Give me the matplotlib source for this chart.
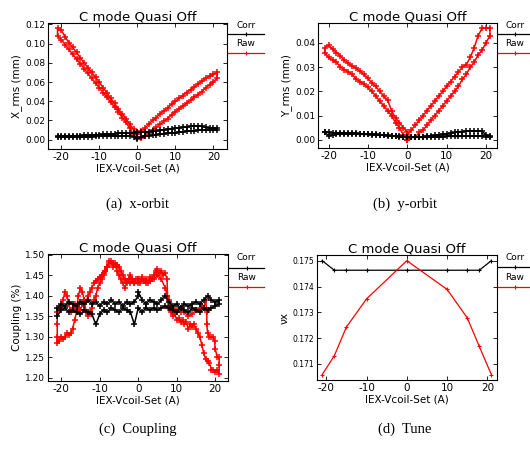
import matplotlib
matplotlib.use("Agg")
import matplotlib.pyplot as plt
from matplotlib.lines import Line2D

plt.rcParams['font.family'] = ['DejaVu Sans']
plt.rcParams['axes.unicode_minus'] = False

# ---------------- data ----------------
XP = [0, 1, 2, 3, 4, 5, 6, 7, 8, 9, 10, 11, 12, 13, 14, 15, 16, 17, 18, 19, 20, 21]
XPR = [21, 20, 19, 18, 17, 16, 15, 14, 13, 12, 11, 10, 9, 8, 7, 6, 5, 4, 3, 2, 1, 0]
XN = [0, -1, -2, -3, -4, -5, -6, -7, -8, -9, -10, -11, -12, -13, -14, -15, -16, -17, -18, -19, -20, -21]
XNR = [-21, -20, -19, -18, -17, -16, -15, -14, -13, -12, -11, -10, -9, -8, -7, -6, -5, -4, -3, -2, -1, 0]

# (a) x-orbit  X_rms (mm)
xa_raw_1 = [0.001, 0.002, 0.004, 0.007, 0.010, 0.013, 0.016, 0.019, 0.022, 0.026, 0.029,
            0.032, 0.035, 0.038, 0.041, 0.044, 0.047, 0.050, 0.054, 0.057, 0.060, 0.064]
xa_raw_2 = [0.070, 0.068, 0.066, 0.064, 0.061, 0.058, 0.055, 0.052, 0.049, 0.046, 0.043,
            0.040, 0.037, 0.033, 0.030, 0.027, 0.023, 0.020, 0.016, 0.012, 0.009, 0.006]
xa_raw_3 = [0.006, 0.011, 0.016, 0.022, 0.027, 0.032, 0.038, 0.043, 0.049, 0.054, 0.060,
            0.065, 0.070, 0.075, 0.080, 0.085, 0.091, 0.096, 0.101, 0.107, 0.114, 0.116]
xa_raw_4 = [0.108, 0.104, 0.099, 0.094, 0.089, 0.084, 0.079, 0.074, 0.069, 0.064, 0.059,
            0.054, 0.049, 0.044, 0.039, 0.034, 0.029, 0.023, 0.018, 0.012, 0.006, 0.001]
xa_corr_1 = [0.002, 0.003, 0.004, 0.004, 0.005, 0.005, 0.006, 0.006, 0.007, 0.007, 0.007,
             0.008, 0.008, 0.009, 0.009, 0.009, 0.010, 0.010, 0.010, 0.010, 0.010, 0.010]
xa_corr_2 = [0.012, 0.012, 0.012, 0.013, 0.014, 0.014, 0.014, 0.014, 0.013, 0.013, 0.012,
             0.012, 0.011, 0.011, 0.010, 0.010, 0.009, 0.009, 0.008, 0.008, 0.008, 0.008]
xa_corr_3 = [0.008, 0.007, 0.007, 0.007, 0.007, 0.007, 0.006, 0.006, 0.006, 0.006, 0.005,
             0.005, 0.005, 0.005, 0.005, 0.004, 0.004, 0.004, 0.004, 0.004, 0.004, 0.004]
xa_corr_4 = [0.003, 0.003, 0.003, 0.003, 0.003, 0.003, 0.003, 0.003, 0.003, 0.003, 0.004,
             0.004, 0.004, 0.004, 0.004, 0.004, 0.004, 0.004, 0.004, 0.004, 0.003, 0.002]

# (b) y-orbit  Y_rms (mm)
yb_raw_1 = [0.002, 0.004, 0.006, 0.008, 0.010, 0.012, 0.014, 0.016, 0.018, 0.020, 0.022,
            0.024, 0.026, 0.028, 0.030, 0.031, 0.034, 0.038, 0.043, 0.046, 0.046, 0.046]
yb_raw_2 = [0.043, 0.040, 0.037, 0.035, 0.032, 0.030, 0.027, 0.025, 0.022, 0.020, 0.018,
            0.016, 0.014, 0.012, 0.010, 0.008, 0.006, 0.004, 0.003, 0.001, 0.001, 0.000]
yb_raw_3 = [0.003, 0.005, 0.007, 0.009, 0.012, 0.0164, 0.018, 0.020, 0.022, 0.0235, 0.0253,
            0.027, 0.0283, 0.0295, 0.0305, 0.0315, 0.033, 0.0345, 0.036, 0.0375, 0.039, 0.038]
yb_raw_4 = [0.036, 0.034, 0.033, 0.032, 0.030, 0.029, 0.028, 0.027, 0.025, 0.024, 0.023,
            0.0216, 0.020, 0.018, 0.016, 0.014, 0.012, 0.010, 0.007, 0.005, 0.002, 0.000]
yb_corr_1 = [0.0010, 0.0010, 0.0010, 0.0010, 0.0010, 0.0010, 0.0012, 0.0012, 0.0013, 0.0013, 0.0014,
             0.0014, 0.0014, 0.0014, 0.0015, 0.0015, 0.0015, 0.0015, 0.0015, 0.0014, 0.0013, 0.0012]
yb_corr_2 = [0.0015, 0.0020, 0.0035, 0.0037, 0.0037, 0.0036, 0.0035, 0.0034, 0.0033, 0.0030, 0.0027,
             0.0025, 0.0022, 0.0020, 0.0018, 0.0016, 0.0015, 0.0013, 0.0012, 0.0012, 0.0012, 0.0012]
yb_corr_3 = [0.0012, 0.0013, 0.0014, 0.0015, 0.0017, 0.0018, 0.0020, 0.0021, 0.0022, 0.0023, 0.0024,
             0.0025, 0.0025, 0.0026, 0.0026, 0.0027, 0.0027, 0.0028, 0.0028, 0.0029, 0.0030, 0.0033]
yb_corr_4 = [0.0030, 0.0017, 0.0020, 0.0022, 0.0023, 0.0024, 0.0024, 0.0024, 0.0023, 0.0023, 0.0022,
             0.0022, 0.0021, 0.0020, 0.0019, 0.0018, 0.0016, 0.0015, 0.0014, 0.0012, 0.0011, 0.0010]

# (c) Coupling (%)
cc_raw_x = [0, 0.5, 1, 1.5, 2, 2.5, 3, 3.5, 4, 4.5, 5, 5.5, 6, 6.5, 7, 7.5, 7.6, 7.8, 8.5, 9,
            9.5, 10, 10.5, 11, 11.5, 12, 12.5, 13, 13.5, 14, 14.5, 15, 15.5, 16, 16.5, 17, 17.5,
            18, 18.5, 19, 19.5, 20, 20.5, 21, 21, 21,
            20.5, 20, 19.8, 19.5, 19, 18.5, 18, 17.8, 17.8, 17.5, 17, 16.5, 16, 15, 14, 13, 12,
            11, 10, 9, 8.5, 8, 7.5, 7, 6, 5, 4, 3, 2, 1, 0,
            -1, -1.5, -2, -2.5, -3, -3.5, -4, -4.5, -5, -5.5, -6, -6.5, -7, -7.5, -8, -8.5, -9,
            -9.5, -10, -10.5, -11, -11.5, -12, -12.5, -13, -13.5, -14, -14.5, -15, -15.5, -16,
            -16.5, -17, -17.5, -18, -18.5, -19, -19.5, -20, -20.5, -21, -21, -21, -21,
            -20.5, -20, -19.5, -19, -18.5, -18, -17.5, -17, -16.5, -16, -15.5, -15, -14.5, -14,
            -13.5, -13, -12.5, -12, -11.5, -11, -10.5, -10, -9.5, -9, -8.5, -8, -7.5, -7, -6.5,
            -6, -5.5, -5, -4.5, -4, -3.5, -3, -2.5, -2, -1.5, -1, -0.5, 0]
cc_raw_y = [1.44, 1.43, 1.445, 1.435, 1.44, 1.43, 1.445, 1.44, 1.45, 1.46, 1.465, 1.455, 1.46,
            1.45, 1.455, 1.44, 1.40, 1.37, 1.36, 1.35, 1.355, 1.34, 1.345, 1.335, 1.34, 1.33,
            1.335, 1.32, 1.33, 1.325, 1.33, 1.32, 1.31, 1.30, 1.28, 1.26, 1.245, 1.24, 1.235,
            1.22, 1.22, 1.215, 1.22, 1.21, 1.23, 1.25,
            1.25, 1.27, 1.29, 1.30, 1.30, 1.30, 1.31, 1.33, 1.36, 1.39, 1.37, 1.375, 1.37,
            1.365, 1.355, 1.35, 1.36, 1.36, 1.365, 1.37, 1.375, 1.39, 1.40, 1.42, 1.44, 1.45,
            1.44, 1.435, 1.43, 1.44, 1.43,
            1.43, 1.44, 1.43, 1.44, 1.435, 1.44, 1.45, 1.46, 1.47, 1.475, 1.48, 1.47, 1.48,
            1.485, 1.47, 1.46, 1.45, 1.44, 1.43, 1.42, 1.40, 1.39, 1.37, 1.36, 1.35, 1.36,
            1.39, 1.41, 1.42, 1.40, 1.37, 1.38, 1.37, 1.36, 1.38, 1.40, 1.41, 1.39, 1.375,
            1.37, 1.36, 1.33, 1.30, 1.285,
            1.29, 1.30, 1.295, 1.30, 1.31, 1.305, 1.31, 1.32, 1.34, 1.36, 1.37, 1.365, 1.38,
            1.39, 1.385, 1.40, 1.41, 1.42, 1.43, 1.435, 1.44, 1.445, 1.45, 1.455, 1.46, 1.47,
            1.48, 1.485, 1.48, 1.475, 1.46, 1.45, 1.44, 1.43, 1.42, 1.43, 1.44, 1.45, 1.44,
            1.43, 1.44, 1.44]
cc_corr_1 = [1.41, 1.39, 1.38, 1.39, 1.385, 1.38, 1.39, 1.40, 1.385, 1.375, 1.38, 1.37, 1.38,
             1.375, 1.38, 1.385, 1.38, 1.39, 1.40, 1.39, 1.385, 1.39]
cc_corr_2x = [21, 20, 19, 18, 17, 16, 15, 14, 13, 12, 11, 10, 9, 8, 7, 6, 5, 4, 3, 2, 1, 0,
              -1, -2, -3, -4, -5, -6, -7, -8, -9, -10, -11, -12, -13, -14, -15, -16, -17, -18,
              -19, -20, -21]
cc_corr_2 = [1.38, 1.375, 1.37, 1.365, 1.37, 1.36, 1.365, 1.37, 1.36, 1.365, 1.37, 1.36, 1.365,
             1.37, 1.375, 1.37, 1.365, 1.37, 1.365, 1.37, 1.36, 1.37, 1.33, 1.36, 1.365, 1.37,
             1.36, 1.365, 1.37, 1.36, 1.365, 1.355, 1.33, 1.355, 1.36, 1.365, 1.355, 1.36, 1.365,
             1.36, 1.37, 1.365, 1.35]
cc_corr_3 = [1.37, 1.38, 1.375, 1.385, 1.38, 1.375, 1.385, 1.38, 1.39, 1.38, 1.385, 1.375, 1.385,
             1.38, 1.39, 1.38, 1.385, 1.375, 1.385, 1.38, 1.385, 1.40]

# (d) Tune
xd = [-21, -18, -15, -10, 0, 10, 15, 18, 21]
tune_corr = [0.17500, 0.17463, 0.17463, 0.17463, 0.17463, 0.17463, 0.17463, 0.17463, 0.17500]
tune_raw = [0.17059, 0.17132, 0.17243, 0.17352, 0.17500, 0.17389, 0.17279, 0.17168, 0.17059]

TITLE = "C mode Quasi Off"
XLABEL = "IEX-Vcoil-Set (A)"

RED = "#ff0000"
W, H = 530, 458
fig = plt.figure(figsize=(W / 100, H / 100), dpi=100)


def rect(l, r, t, b):
    return [l / W, 1 - b / H, (r - l) / W, (b - t) / H]


def style(ax, ylim, yticks, yfmt, ylabel, xlim, ytsize=6.5):
    ax.set_xlim(*xlim)
    ax.set_ylim(*ylim)
    ax.set_xticks([-20, -10, 0, 10, 20])
    ax.set_xticklabels(["-20", "-10", "0", "10", "20"])
    ax.set_yticks(yticks)
    ax.set_yticklabels([yfmt.format(v) for v in yticks])
    ax.tick_params(axis='both', direction='in', length=3, width=0.6,
                   top=True, right=True, pad=2)
    ax.tick_params(axis='x', labelsize=7.5)
    ax.tick_params(axis='y', labelsize=ytsize)
    for s in ax.spines.values():
        s.set_linewidth(0.8)
    ax.set_title(TITLE, fontsize=9.5, pad=2)
    ax.set_xlabel(XLABEL, fontsize=7.5, labelpad=1)
    ax.set_ylabel(ylabel, fontsize=7.5, labelpad=2)


def legend(x0, x1, yc_txt, yc_line, yr_txt, yr_line):
    xm = (x0 + x1) / 2
    fig.text(xm / W, 1 - yc_txt / H, "Corr", ha='center', va='center', fontsize=6.5)
    fig.add_artist(Line2D([x0 / W, x1 / W], [1 - yc_line / H] * 2, color='black', lw=0.9))
    fig.add_artist(Line2D([xm / W], [1 - yc_line / H], color='black', marker='+', ms=3, mew=0.8))
    fig.text(xm / W, 1 - yr_txt / H, "Raw", ha='center', va='center', fontsize=6.5)
    fig.add_artist(Line2D([x0 / W, x1 / W], [1 - yr_line / H] * 2, color=RED, lw=0.9))
    fig.add_artist(Line2D([xm / W], [1 - yr_line / H], color=RED, marker='+', ms=3, mew=0.8))


mk = dict(marker='+', ms=4.5, mew=1.1, lw=1.1)

# ---- (a)
ax = fig.add_axes(rect(48, 227, 23, 149))
ax.plot(XP + XPR + XN + XNR, xa_raw_1 + xa_raw_2 + xa_raw_3 + xa_raw_4, color=RED, **mk)
ax.plot(XP + XPR + XN + XNR, xa_corr_1 + xa_corr_2 + xa_corr_3 + xa_corr_4, color='black', **mk)
style(ax, (-0.0097, 0.1215), [0.0, 0.02, 0.04, 0.06, 0.08, 0.10, 0.12], "{:.2f}",
      "X_rms (mm)", (-23.5, 23.6))
legend(228, 264, 26, 34, 44, 53)

# ---- (b)
ax = fig.add_axes(rect(318, 497, 23, 148))
ax.plot(XP + XPR + XN + XNR, yb_raw_1 + yb_raw_2 + yb_raw_3 + yb_raw_4, color=RED, **mk)
ax.plot(XP + XPR + XN + XNR, yb_corr_1 + yb_corr_2 + yb_corr_3 + yb_corr_4, color='black', **mk)
style(ax, (-0.0034, 0.0482), [0.0, 0.01, 0.02, 0.03, 0.04], "{:.2f}",
      "Y_rms (mm)", (-22.7, 22.8))
legend(498, 532, 26, 34, 44, 53)

# ---- (c)
ax = fig.add_axes(rect(48, 228, 254, 381))
ax.plot(cc_raw_x, cc_raw_y, color=RED, **mk)
ax.plot(XP + cc_corr_2x + XNR, cc_corr_1 + cc_corr_2 + cc_corr_3, color='black', **mk)
style(ax, (1.192, 1.502), [1.20, 1.25, 1.30, 1.35, 1.40, 1.45, 1.50], "{:.2f}",
      "Coupling (%)", (-23.4, 23.3))
legend(229, 264, 258, 268, 278, 287)

# ---- (d)
ax = fig.add_axes(rect(317, 497, 255, 380))
ax.plot(xd, tune_corr, color='black', marker='+', ms=3, mew=0.8, lw=0.9)
ax.plot(xd, tune_raw, color=RED, marker='+', ms=3, mew=0.8, lw=0.9)
style(ax, (0.17038, 0.17522), [0.171, 0.172, 0.173, 0.174, 0.175], "{:.3f}",
      "νx", (-22.3, 22.4), ytsize=5.5)
legend(498, 532, 258, 267, 277, 287)

# captions
cap = dict(ha='center', va='center', fontsize=10.5, family=['Liberation Serif'])
fig.text(138 / W, 1 - 204 / H, "(a)  x-orbit", **cap)
fig.text(405 / W, 1 - 204 / H, "(b)  y-orbit", **cap)
fig.text(138 / W, 1 - 429 / H, "(c)  Coupling", **cap)
fig.text(405 / W, 1 - 429 / H, "(d)  Tune", **cap)

fig.savefig("out.png", dpi=100)
